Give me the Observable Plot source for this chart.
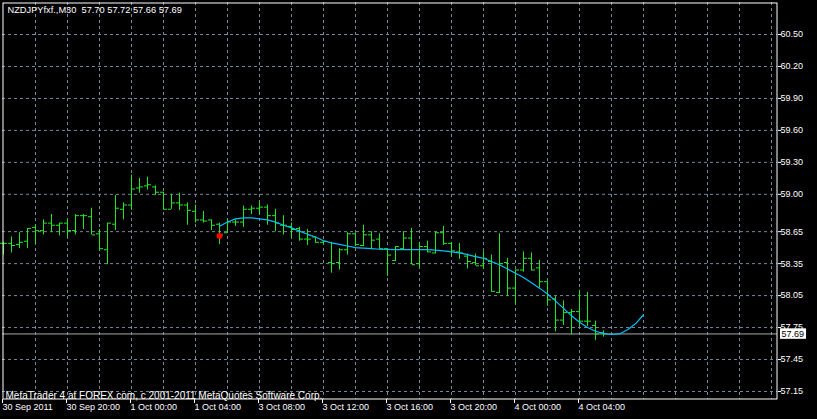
<!DOCTYPE html>
<html><head><meta charset="utf-8">
<script src="https://cdn.jsdelivr.net/npm/d3@7"></script>
<script src="https://cdn.jsdelivr.net/npm/@observablehq/plot@0.6"></script>
<style>
html,body{margin:0;padding:0;background:#000;overflow:hidden;}
svg{display:block}
</style></head><body><div id="chart"></div>
<script>
// ---- data (NZDJPY, M30 bars) ----
const chartTitle = "NZDJPYfxf.,M30  57.70 57.72 57.66 57.69";
const copyright = "MetaTrader 4 at FOREX.com, c 2001-2011 MetaQuotes Software Corp.";

const open = [58.54,58.54,58.53,58.56,58.69,58.66,58.73,58.71,58.73,58.66,
  58.80,58.79,58.63,58.48,58.72,58.86,58.90,59.06,59.08,59.07,
  59.02,58.86,58.92,58.90,58.84,58.76,58.76,58.72,58.64,58.74,
  58.74,58.86,58.87,58.88,58.80,58.71,58.70,58.68,58.58,58.60,
  58.55,58.36,58.36,58.48,58.63,58.52,58.62,58.58,58.49,58.38,
  58.49,58.59,58.35,58.51,58.45,58.64,58.54,58.46,58.42,58.36,
  58.33,58.37,58.08,58.36,58.12,58.29,58.40,58.31,58.18,58.02,
  57.82,57.89,57.90,57.81,57.77,57.70];
const high = [58.55,58.60,58.64,58.68,58.71,58.76,58.81,58.73,58.77,58.81,
  58.81,58.87,58.67,58.73,58.99,58.92,59.18,59.15,59.16,59.08,
  59.02,59.00,59.01,58.92,58.90,58.84,58.76,58.73,58.77,58.76,
  58.89,58.89,58.93,58.90,58.86,58.80,58.73,58.69,58.67,58.60,
  58.56,58.55,58.49,58.64,58.63,58.71,58.65,58.63,58.49,58.51,
  58.65,58.68,58.55,58.56,58.65,58.70,58.55,58.54,58.44,58.44,
  58.46,58.43,58.63,58.40,58.29,58.46,58.45,58.38,58.18,58.04,
  58.00,57.92,58.10,58.08,57.81,57.72];
const low = [58.43,58.45,58.49,58.49,58.53,58.62,58.64,58.61,58.59,58.62,
  58.67,58.62,58.47,58.34,58.66,58.76,58.85,59.01,59.04,58.99,
  58.85,58.86,58.85,58.71,58.73,58.73,58.66,58.53,58.64,58.70,
  58.69,58.81,58.81,58.71,58.65,58.62,58.59,58.56,58.52,58.54,
  58.53,58.26,58.29,58.43,58.51,58.51,58.49,58.48,58.23,58.37,
  58.48,58.34,58.31,58.45,58.44,58.52,58.41,58.39,58.30,58.33,
  58.30,58.08,58.07,58.04,57.97,58.27,58.28,58.12,57.95,57.71,
  57.77,57.68,57.76,57.76,57.63,57.66];
const close = [58.54,58.52,58.55,58.68,58.66,58.73,58.71,58.73,58.66,58.80,
  58.80,58.62,58.49,58.73,58.87,58.90,59.05,59.07,59.09,59.02,
  58.86,58.92,58.90,58.85,58.76,58.75,58.71,58.62,58.74,58.74,
  58.86,58.87,58.88,58.80,58.73,58.71,58.67,58.58,58.58,58.55,
  58.56,58.35,58.48,58.63,58.53,58.62,58.57,58.49,58.43,58.51,
  58.59,58.34,58.51,58.46,58.64,58.54,58.47,58.45,58.37,58.33,
  58.40,58.09,58.35,58.12,58.29,58.40,58.29,58.18,58.01,57.82,
  57.89,57.90,57.81,57.81,57.69,57.69];

// regression curve (cyan), one value per bar position, incl. 5 bars projected forward
const regBars = [27,28,29,30,31,32,33,34,35,36,37,38,39,40,41,42,43,44,45,46,47,48,49,50,51,52,53,
  54,55,56,57,58,59,60,61,62,63,64,65,66,67,68,69,70,71,72,73,74,75,76,77,78,79,80];
const regValues = [58.70,58.74,58.77,58.78,58.78,58.77,58.76,58.74,58.71,58.685,58.655,58.625,58.60,
  58.565,58.545,58.53,58.515,58.50,58.495,58.49,58.485,58.483,58.482,58.482,58.482,58.482,58.481,
  58.476,58.47,58.46,58.45,58.435,58.415,58.40,58.37,58.34,58.30,58.26,58.22,58.17,58.12,58.065,
  58.00,57.93,57.86,57.80,57.75,57.715,57.695,57.685,57.69,57.73,57.785,57.87];

const signalBar = [27];
const signalPrice = [58.61];

const yTicks = [60.50,60.20,59.90,59.60,59.30,59.00,58.65,58.35,58.05,57.75,57.45,57.15];
const timeTickBars = [0,8,16,24,32,40,48,56,64,72];
const timeLabels = ["30 Sep 2011","30 Sep 20:00","1 Oct 00:00","1 Oct 04:00","3 Oct 08:00",
  "3 Oct 12:00","3 Oct 16:00","3 Oct 20:00","4 Oct 00:00","4 Oct 04:00"];

// ---- build tables ----
const bars = open.map((o, i) => ({i, open: o, high: high[i], low: low[i], close: close[i]}));
const reg = regBars.map((b, k) => ({i: b, v: regValues[k]}));
const signal = signalBar.map((b, k) => ({i: b, v: signalPrice[k]}));
const lastClose = close[close.length - 1];
const gridBars = d3.range(4, 97, 4);

const GREEN = "#1fe81f";
const CYAN = "#00bfff";
const GRID = "#778899";
const FONT = "'Liberation Sans', Arial, sans-serif";

const chart = Plot.plot({
  width: 817, height: 419,
  marginLeft: 2, marginRight: 40, marginTop: 2, marginBottom: 20,
  style: {background: "#000", color: "#fff", fontFamily: FONT, fontSize: "9px"},
  x: {type: "linear", domain: [-0.125, 96.75], axis: null, label: null},
  y: {type: "linear", domain: [57.0749, 60.8003], axis: null, label: null},
  marks: [
    Plot.gridY(yTicks, {stroke: GRID, strokeOpacity: 1, strokeDasharray: "3,3"}),
    Plot.gridX(gridBars, {stroke: GRID, strokeOpacity: 1, strokeDasharray: "3,3"}),
    Plot.ruleY([lastClose], {stroke: "#a8a8a8"}),
    Plot.ruleX(bars, {x: "i", y1: "low", y2: "high", stroke: GREEN}),
    Plot.ruleY(bars, {y: "open", x1: d => d.i - 3/8, x2: d => d.i, stroke: GREEN}),
    Plot.ruleY(bars, {y: "close", x1: d => d.i + 1/8, x2: d => d.i + 4/8, stroke: GREEN}),
    Plot.line(reg, {x: "i", y: "v", stroke: CYAN, strokeWidth: 1.2}),
    Plot.dot(signal, {x: "i", y: "v", r: 3, fill: "#ff0000", stroke: null}),
    Plot.frame({stroke: "#fff", insetLeft: 0.5, insetRight: 0.5, insetTop: 0.5, insetBottom: 0.5}),
    Plot.axisY(yTicks, {anchor: "right", tickSize: 3, tickPadding: 0, stroke: "#fff", fill: "#fff",
      label: null, tickFormat: d => d.toFixed(2), fontSize: 9}),
    Plot.axisX(timeTickBars, {anchor: "bottom", tickSize: 4, tickPadding: 0, stroke: "#fff", fill: "#fff",
      label: null, textAnchor: "start", dx: -1, fontSize: 9,
      tickFormat: d => timeLabels[timeTickBars.indexOf(d)]}),
    Plot.text([chartTitle], {frameAnchor: "top-left", text: d => d, dx: 5, dy: 4, lineAnchor: "top",
      textAnchor: "start", fill: "#fff", fontSize: 9.25}),
    Plot.text([copyright], {frameAnchor: "bottom-left", text: d => d, dx: 3, dy: -1, lineAnchor: "bottom",
      textAnchor: "start", fill: "#fff", fontSize: 10}),
    Plot.text([lastClose], {y: d => d, frameAnchor: "right", text: d => d.toFixed(2), dx: 4,
      textAnchor: "start", fill: "#000", fontSize: 9, ariaLabel: () => "last-price"})
  ]
});
document.getElementById("chart").appendChild(chart);

// white box behind the last-price label
const labelTexts = [];
d3.select(chart).selectAll('[aria-label="last-price"]').each(function() {
  if (this.tagName.toLowerCase() === "text") labelTexts.push(this);
  else d3.select(this).selectAll("text").each(function() { labelTexts.push(this); });
});
if (!labelTexts.length) {
  d3.select(chart).selectAll("text").each(function() {
    if (this.getAttribute("fill") === "#000" || this.textContent === lastClose.toFixed(2)) labelTexts.push(this);
  });
}
labelTexts.forEach(t => {
  const b = t.getBBox();
  const ctm = t.getAttribute("transform");
  d3.select(t.parentNode).insert("rect", () => t)
    .attr("transform", ctm)
    .attr("x", b.x - 1.5).attr("y", b.y - 0.5)
    .attr("width", b.width + 3.5).attr("height", b.height + 0.5)
    .attr("fill", "#fff");
});
</script></body></html>
